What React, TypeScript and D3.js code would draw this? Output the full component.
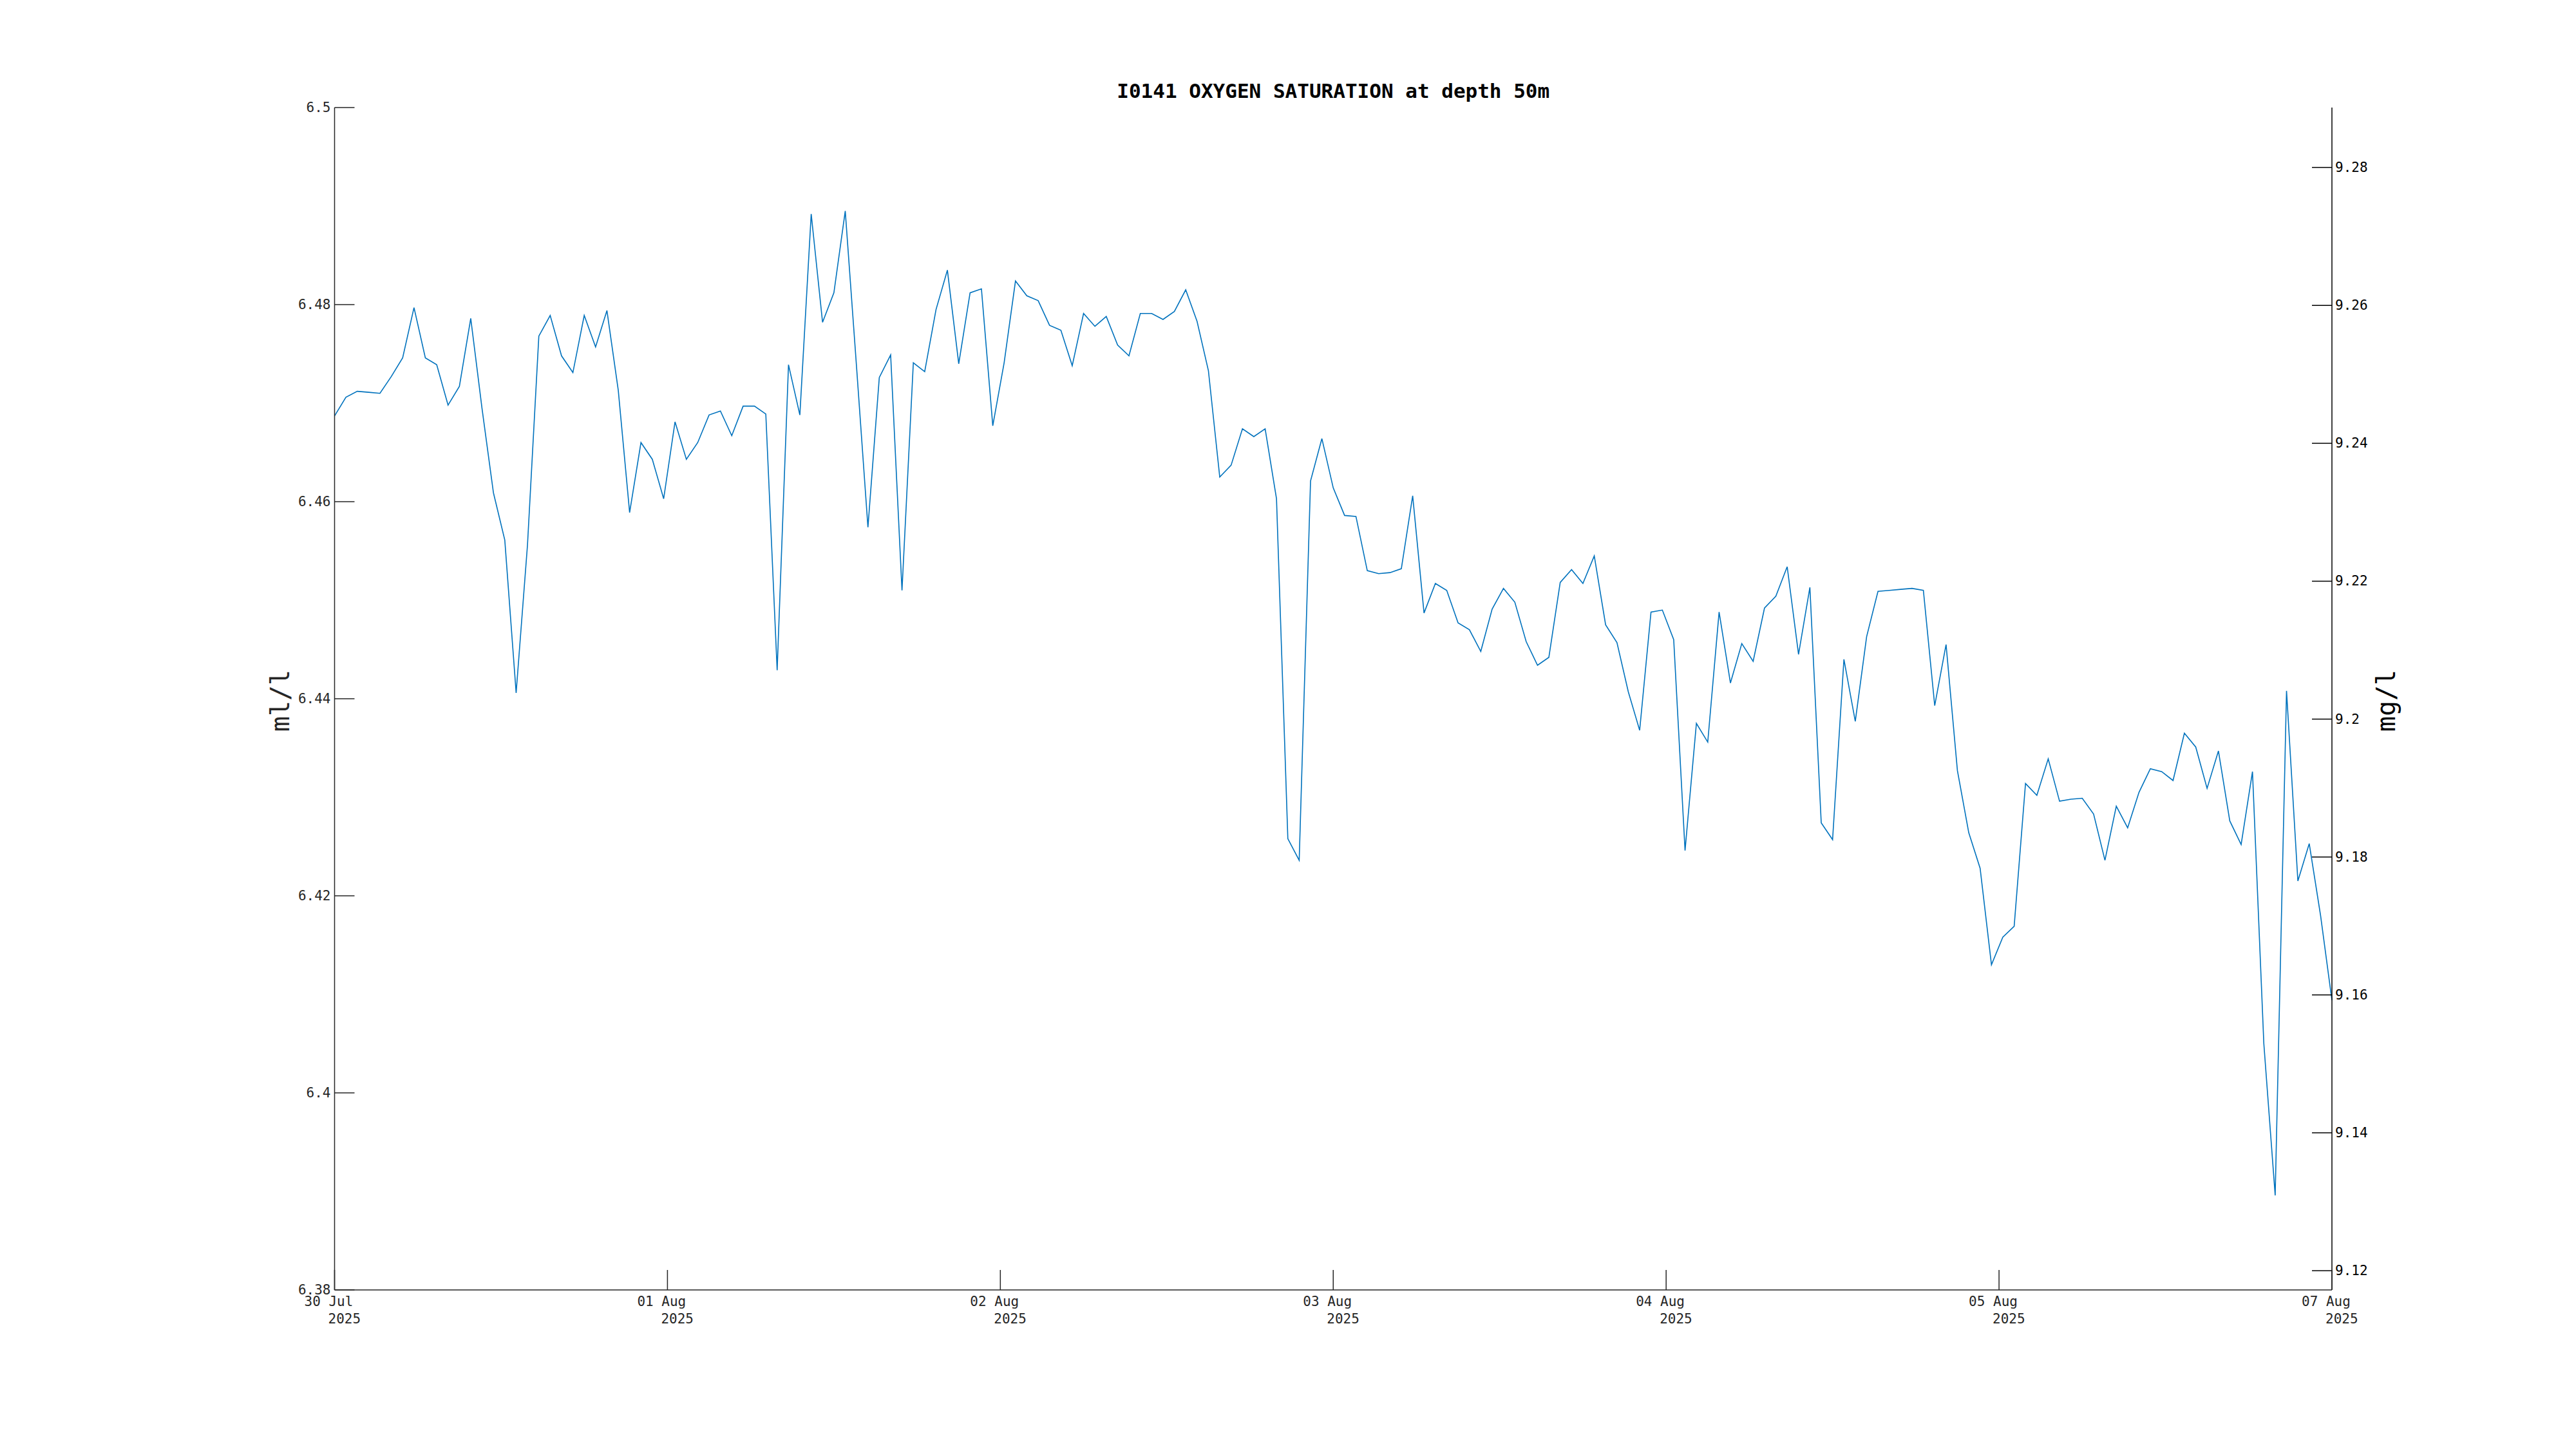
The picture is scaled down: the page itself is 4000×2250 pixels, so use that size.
import React from "react";
import * as d3 from "d3";

// ---- data ----
const startTime = Date.UTC(2025, 6, 30, 20, 0, 0); // 30 Jul 2025 20:00
const sampleHours = 1;
const oxygenMlL: number[] = [
  6.4687, 6.4706, 6.4712, 6.4711, 6.4710, 6.4727, 6.4746, 6.4797, 6.4746, 6.4739,
  6.4698, 6.4717, 6.4786, 6.4694, 6.4609, 6.4561, 6.4406, 6.4556, 6.4768, 6.4789,
  6.4748, 6.4731, 6.4789, 6.4757, 6.4794, 6.4713, 6.4589, 6.4660, 6.4643, 6.4603,
  6.4681, 6.4643, 6.4660, 6.4688, 6.4692, 6.4667, 6.4697, 6.4697, 6.4689, 6.4429,
  6.4739, 6.4688, 6.4892, 6.4782, 6.4812, 6.4895, 6.4736, 6.4574, 6.4726, 6.4749,
  6.4510, 6.4741, 6.4732, 6.4795, 6.4835, 6.4740, 6.4812, 6.4816, 6.4677, 6.4741,
  6.4824, 6.4809, 6.4804, 6.4779, 6.4774, 6.4738, 6.4791, 6.4778, 6.4788, 6.4759,
  6.4748, 6.4791, 6.4791, 6.4785, 6.4793, 6.4815, 6.4783, 6.4733, 6.4625, 6.4637,
  6.4674, 6.4666, 6.4674, 6.4603, 6.4258, 6.4236, 6.4621, 6.4664, 6.4614, 6.4586,
  6.4585, 6.4530, 6.4527, 6.4528, 6.4532, 6.4606, 6.4487, 6.4517, 6.4510, 6.4477,
  6.4470, 6.4448, 6.4491, 6.4512, 6.4498, 6.4458, 6.4434, 6.4442, 6.4518, 6.4531,
  6.4517, 6.4545, 6.4475, 6.4457, 6.4407, 6.4368, 6.4488, 6.4490, 6.4460, 6.4246,
  6.4375, 6.4356, 6.4488, 6.4416, 6.4456, 6.4438, 6.4492, 6.4504, 6.4534, 6.4445,
  6.4513, 6.4274, 6.4257, 6.4440, 6.4377, 6.4463, 6.4509, 6.4510, 6.4511, 6.4512,
  6.4510, 6.4393, 6.4455, 6.4327, 6.4264, 6.4228, 6.4130, 6.4158, 6.4169, 6.4314,
  6.4302, 6.4339, 6.4296, 6.4298, 6.4299, 6.4283, 6.4236, 6.4291, 6.4269, 6.4305,
  6.4329, 6.4326, 6.4317, 6.4365, 6.4351, 6.4309, 6.4347, 6.4276, 6.4252, 6.4326,
  6.4050, 6.3896, 6.4408, 6.4215, 6.4253, 6.4180, 6.4094,
];
const leftTicks = [6.38, 6.4, 6.42, 6.44, 6.46, 6.48, 6.5];
const leftTickLabels = ["6.38", "6.4", "6.42", "6.44", "6.46", "6.48", "6.5"];
const rightTicks = [9.12, 9.14, 9.16, 9.18, 9.2, 9.22, 9.24, 9.26, 9.28];
const rightTickLabels = ["9.12", "9.14", "9.16", "9.18", "9.2", "9.22", "9.24", "9.26", "9.28"];
const mlToMg = 1.42903;
const leftDomain: [number, number] = [6.38, 6.5];
const titleText = "I0141 OXYGEN SATURATION at depth 50m";
const leftLabel = "ml/l";
const rightLabel = "mg/l";
const xTickCount = 7;

export default function App() {
  const W = 4000;
  const H = 2250;
  const L = 519.5;
  const R = 3621;
  const T = 167;
  const B = 2003;
  const font = "'DejaVu Sans Mono', monospace";
  const tickLen = 31;
  const axisCol = "#262626";

  const data = oxygenMlL.map((v, i) => ({
    t: new Date(startTime + i * sampleHours * 3600000),
    v,
  }));
  const tStart = data[0].t;
  const tEnd = data[data.length - 1].t;

  const x = d3.scaleUtc().domain([tStart, tEnd]).range([L, R]);
  const y = d3.scaleLinear().domain(leftDomain).range([B, T]);
  const y2 = d3
    .scaleLinear()
    .domain([leftDomain[0] * mlToMg, leftDomain[1] * mlToMg])
    .range([B, T]);

  const line = d3
    .line<{ t: Date; v: number }>()
    .x((d) => x(d.t))
    .y((d) => y(d.v));

  const xTicks = d3
    .range(xTickCount)
    .map((i) => new Date(+tStart + (i * (+tEnd - +tStart)) / (xTickCount - 1)));
  const fmtDay = d3.utcFormat("%d %b");
  const fmtYear = d3.utcFormat("%Y");

  return (
    <svg
      width={W}
      height={H}
      viewBox={`0 0 ${W} ${H}`}
      style={{ position: "absolute", left: 0, top: 0, background: "#fff" }}
    >
      <rect x={0} y={0} width={W} height={H} fill="#fff" />
      {/* data line */}
      <path d={line(data) || ""} fill="none" stroke="#0072BD" strokeWidth={1.6} />

      {/* left axis */}
      <line x1={L} y1={T} x2={L} y2={B} stroke={axisCol} strokeWidth={1.5} />
      {leftTicks.map((v, i) => (
        <g key={"l" + i}>
          <line x1={L} x2={L + tickLen} y1={y(v)} y2={y(v)} stroke={axisCol} strokeWidth={1.5} />
          <text
            x={L - 6}
            y={y(v)}
            textAnchor="end"
            dominantBaseline="central"
            fontFamily={font}
            fontSize={21}
            fill={axisCol}
          >
            {leftTickLabels[i]}
          </text>
        </g>
      ))}

      {/* right axis */}
      <line x1={R} y1={T} x2={R} y2={B} stroke="#000" strokeWidth={1.5} />
      {rightTicks.map((v, i) => (
        <g key={"r" + i}>
          <line x1={R - tickLen} x2={R} y1={y2(v)} y2={y2(v)} stroke="#000" strokeWidth={1.5} />
          <text
            x={R + 5}
            y={y2(v)}
            textAnchor="start"
            dominantBaseline="central"
            fontFamily={font}
            fontSize={21}
            fill="#000"
          >
            {rightTickLabels[i]}
          </text>
        </g>
      ))}

      {/* bottom axis */}
      <line x1={L} y1={B} x2={R} y2={B} stroke={axisCol} strokeWidth={1.5} />
      {xTicks.map((t, i) => {
        const px = x(t);
        return (
          <g key={"x" + i}>
            <line x1={px} x2={px} y1={B} y2={B - tickLen} stroke={axisCol} strokeWidth={1.5} />
            <text x={px - 47} y={2027.5} fontFamily={font} fontSize={21} fill={axisCol}>
              {fmtDay(t)}
            </text>
            <text x={px - 10} y={2055} fontFamily={font} fontSize={21} fill={axisCol}>
              {fmtYear(t)}
            </text>
          </g>
        );
      })}

      {/* title */}
      <text
        x={(L + R) / 2}
        y={152}
        textAnchor="middle"
        fontFamily={font}
        fontSize={31}
        fontWeight="bold"
        fill="#000"
      >
        {titleText}
      </text>

      {/* axis labels */}
      <text
        transform={`translate(449, ${(T + B) / 2 + 3}) rotate(-90)`}
        textAnchor="middle"
        fontFamily={font}
        fontSize={40}
        fill={axisCol}
      >
        {leftLabel}
      </text>
      <text
        transform={`translate(3719, ${(T + B) / 2 + 3}) rotate(-90)`}
        textAnchor="middle"
        fontFamily={font}
        fontSize={40}
        fill="#000"
      >
        {rightLabel}
      </text>
    </svg>
  );
}
